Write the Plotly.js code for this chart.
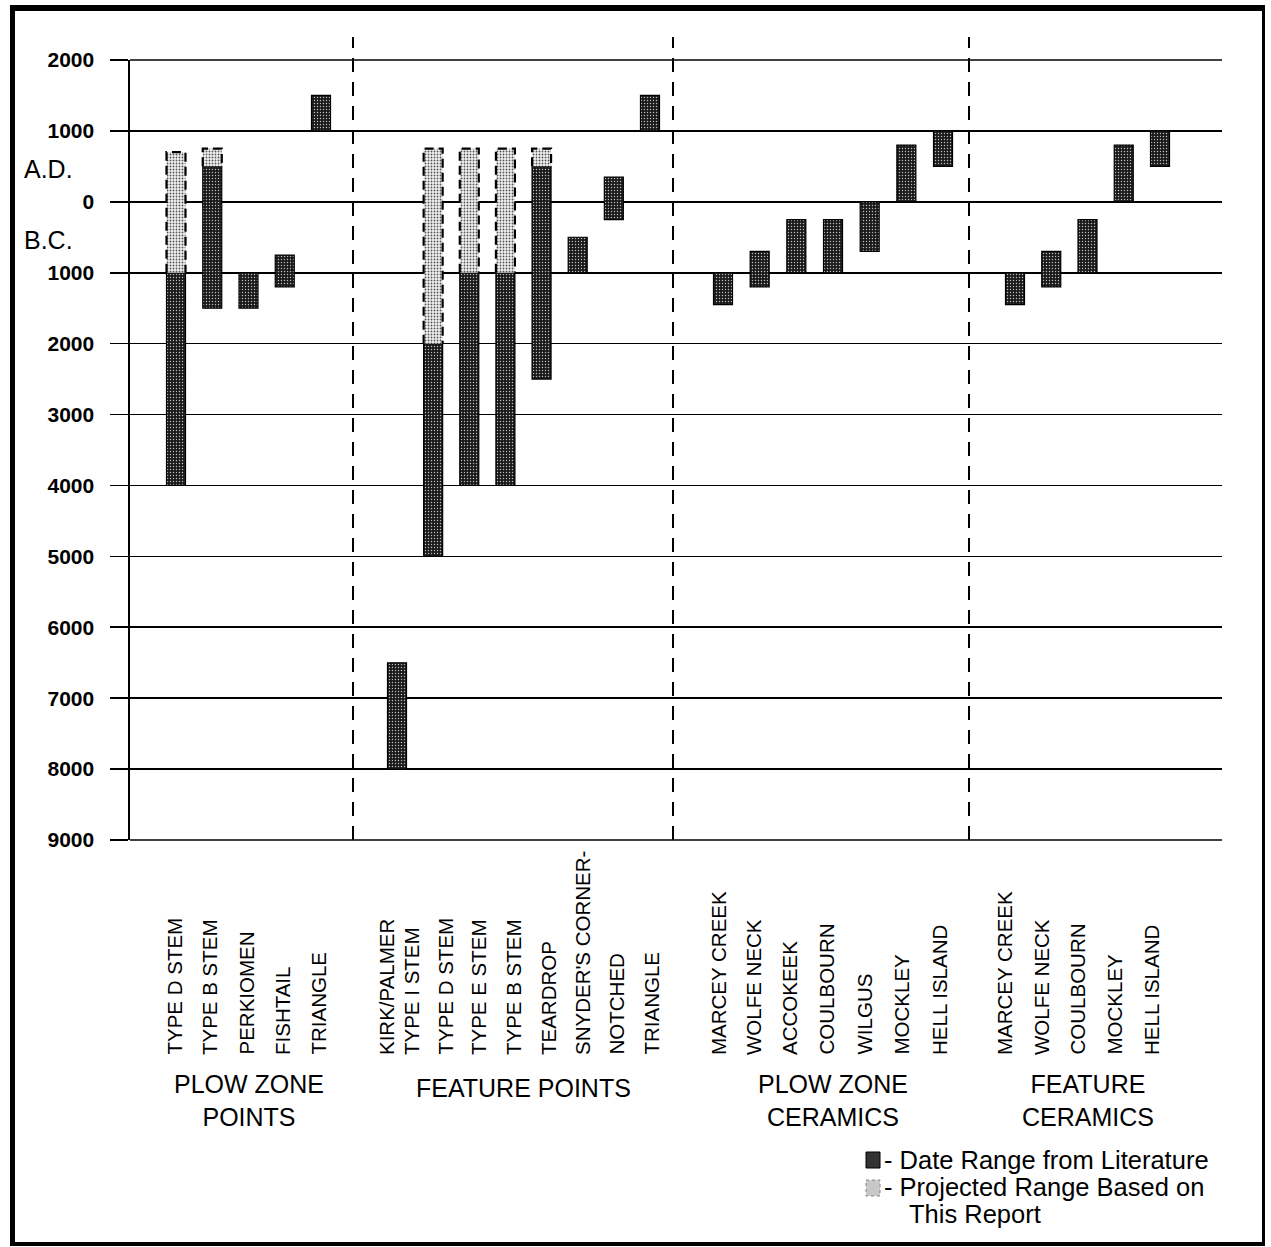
<!DOCTYPE html>
<html>
<head>
<meta charset="utf-8">
<script src="https://cdn.plot.ly/plotly-3.0.1.min.js"></script>
<style>
  html, body { margin: 0; padding: 0; background: #fff; }
  #wrap { position: relative; width: 1271px; height: 1247px; }
  #chart { position: absolute; left: 0; top: 0; width: 1271px; height: 1247px; }
  #frame { position: absolute; left: 10px; top: 5px; width: 1247px; height: 1231px;
           border-left: 5px solid #000; border-top: 6px solid #000;
           border-right: 3px solid #000; border-bottom: 4px solid #000; pointer-events: none; }
</style>
</head>
<body>
<div id="wrap"><div id="chart"></div><div id="frame"></div></div>
<script>
// ---------------- DATA (years: A.D. positive, B.C. negative) ----------------
const groups = ["PLOW ZONE<br>POINTS", "FEATURE POINTS", "PLOW ZONE<br>CERAMICS", "FEATURE<br>CERAMICS"];

const plowPointCats = ["TYPE D STEM", "TYPE B STEM", "PERKIOMEN", "FISHTAIL", "TRIANGLE"];
const plowPointLitStart = [-4000, -1500, -1500, -1200, 1000];
const plowPointLitEnd   = [-1000,   500, -1000,  -750, 1500];
const plowPointProjStart = [-1000,  500, null, null, null];
const plowPointProjEnd   = [  700,  750, null, null, null];

const featPointCats = ["KIRK/PALMER", "TYPE I STEM", "TYPE D STEM", "TYPE E STEM", "TYPE B STEM",
                       "TEARDROP", "SNYDER'S CORNER-<br>NOTCHED", "TRIANGLE"];
const featPointLitStart = [-8000, -5000, -4000, -4000, -2500, -1000, -250, 1000];
const featPointLitEnd   = [-6500, -2000, -1000, -1000,   500,  -500,  350, 1500];
const featPointProjStart = [null, -2000, -1000, -1000, 500, null, null, null];
const featPointProjEnd   = [null,   750,   750,   750, 750, null, null, null];

const plowCerCats = ["MARCEY CREEK", "WOLFE NECK", "ACCOKEEK", "COULBOURN", "WILGUS", "MOCKLEY", "HELL ISLAND"];
const plowCerLitStart = [-1450, -1200, -1000, -1000, -700,   0,  500];
const plowCerLitEnd   = [-1000,  -700,  -250,  -250,    0, 800, 1000];

const featCerCats = ["MARCEY CREEK", "WOLFE NECK", "COULBOURN", "MOCKLEY", "HELL ISLAND"];
const featCerLitStart = [-1450, -1200, -1000,   0,  500];
const featCerLitEnd   = [-1000,  -700,  -250, 800, 1000];

const yTickVals   = [2000, 1000, 0, -1000, -2000, -3000, -4000, -5000, -6000, -7000, -8000, -9000];
const yTickLabels = ["2000", "1000", "0", "1000", "2000", "3000", "4000", "5000", "6000", "7000", "8000", "9000"];

const legendLabels = ["- Date Range from Literature", "- Projected Range Based on", "This Report"];

// ---------------- LAYOUT HELPERS (x axis units = pixels from plot left) ----------------
const groupLayout = [
  {start: 46,  step: 36.25, labels: [44, 79, 116, 152, 188]},
  {start: 267, step: 36.14, labels: [256, 281, 315, 348, 383, 418, 452, 521]},
  {start: 593, step: 36.67, labels: [588, 623, 659, 696, 734, 771, 809]},
  {start: 885, step: 36.25, labels: [874, 911, 947, 984, 1021]}
];
const separatorsX = [223, 543, 839];
const barW = 19;
const FONT = "Liberation Sans, Arial, Helvetica, sans-serif";
const Y_MIN = yTickVals[yTickVals.length - 1], Y_MAX = yTickVals[0];

const allGroups = [
  {cats: plowPointCats, ls: plowPointLitStart, le: plowPointLitEnd, ps: plowPointProjStart, pe: plowPointProjEnd},
  {cats: featPointCats, ls: featPointLitStart, le: featPointLitEnd, ps: featPointProjStart, pe: featPointProjEnd},
  {cats: plowCerCats, ls: plowCerLitStart, le: plowCerLitEnd, ps: null, pe: null},
  {cats: featCerCats, ls: featCerLitStart, le: featCerLitEnd, ps: null, pe: null}
];

const litX = [], litBase = [], litLen = [], litText = [];
const projX = [], projBase = [], projLen = [], projText = [];
const outX = [], outY = [];
const annotations = [];
const shapes = [];

// y paper coordinate from pixel (plot area 60..840)
const PT = 60, PB = 840, PH = 780;
const py = p => (PB - p) / PH;

allGroups.forEach((g, gi) => {
  const L = groupLayout[gi];
  const xs = g.cats.map((c, i) => L.start + i * L.step);
  g.cats.forEach((c, i) => {
    const x = xs[i];
    litX.push(x); litBase.push(g.ls[i]); litLen.push(g.le[i] - g.ls[i]); litText.push(c.replace("<br>", ""));
    if (g.ps && g.ps[i] !== null) {
      projX.push(x); projBase.push(g.ps[i]); projLen.push(g.pe[i] - g.ps[i]); projText.push(c.replace("<br>", ""));
      const x0 = x - barW / 2, x1 = x + barW / 2;
      outX.push(x0, x0, x1, x1, null);
      outY.push(g.ps[i], g.pe[i], g.pe[i], g.ps[i], null);
    }
    // category label(s), rotated, bottom aligned
    const parts = c.split("<br>");
    parts.forEach((p, k) => {
      annotations.push({
        text: p, xref: "x", yref: "paper", x: L.labels[i] + k * 34, y: py(1057),
        xanchor: "center", yanchor: "bottom", textangle: -90, showarrow: false,
        font: {family: FONT, size: 20.5, color: "#000"}
      });
    });
  });
  // group label centred under bars
  const cx = (xs[0] + xs[xs.length - 1]) / 2;
  const nLines = groups[gi].split("<br>").length;
  annotations.push({
    text: groups[gi], xref: "x", yref: "paper", x: cx, y: py(nLines > 1 ? 1100 : 1088),
    xanchor: "center", yanchor: "middle", showarrow: false, align: "center",
    font: {family: FONT, size: 25, color: "#000"}
  });
});

separatorsX.forEach(sx => {
  shapes.push({type: "line", xref: "x", yref: "paper", x0: sx, x1: sx, y0: 0, y1: py(37),
               line: {color: "#000", width: 2, dash: "14px,10px"}});
});

// top and bottom grid lines (Plotly hides grid lines on the range edges)
[1, 0].forEach(v => {
  shapes.push({type: "line", xref: "paper", yref: "paper", x0: 0, x1: 1, y0: v, y1: v,
               line: {color: "#000", width: 1.6}, layer: "below"});
});

// A.D. / B.C.
annotations.push({text: "A.D.", xref: "paper", yref: "paper", x: (22 - 130) / 1092, y: py(169),
  xanchor: "left", yanchor: "middle", showarrow: false, font: {family: FONT, size: 25, color: "#000"}});
annotations.push({text: "B.C.", xref: "paper", yref: "paper", x: (22 - 130) / 1092, y: py(240),
  xanchor: "left", yanchor: "middle", showarrow: false, font: {family: FONT, size: 25, color: "#000"}});

// legend (swatches + text)
shapes.push({type: "rect", xref: "x", yref: "paper", x0: 736, x1: 750, y0: py(1152), y1: py(1168),
             fillcolor: "#333", line: {color: "#000", width: 1}});
shapes.push({type: "rect", xref: "x", yref: "paper", x0: 736, x1: 750, y0: py(1180), y1: py(1196),
             fillcolor: "#c8c8c8", line: {color: "#888", width: 1, dash: "dot"}});
annotations.push({text: legendLabels[0], xref: "x", yref: "paper", x: 752, y: py(1160),
  xanchor: "left", yanchor: "middle", showarrow: false, font: {family: FONT, size: 25.5, color: "#000"}});
annotations.push({text: legendLabels[1], xref: "x", yref: "paper", x: 752, y: py(1187),
  xanchor: "left", yanchor: "middle", showarrow: false, font: {family: FONT, size: 25.5, color: "#000"}});
annotations.push({text: legendLabels[2], xref: "x", yref: "paper", x: 777, y: py(1214),
  xanchor: "left", yanchor: "middle", showarrow: false, font: {family: FONT, size: 25.5, color: "#000"}});

const traces = [
  {
    type: "bar", name: "Date Range from Literature", x: litX, y: litLen, base: litBase, width: barW,
    text: litText, textposition: "none", hoverinfo: "text",
    marker: {color: "#1a1a1a", line: {color: "#000", width: 1.2},
             pattern: {shape: ".", fillmode: "replace", bgcolor: "#1a1a1a", fgcolor: "#bbb", size: 3, solidity: 0.18}},
    showlegend: false
  },
  {
    type: "bar", name: "Projected Range Based on This Report", x: projX, y: projLen, base: projBase, width: barW,
    text: projText, textposition: "none", hoverinfo: "text",
    marker: {color: "#fff", line: {width: 0},
             pattern: {shape: ".", fillmode: "replace", bgcolor: "#f2f2f2", fgcolor: "#555", size: 3, solidity: 0.3}},
    showlegend: false
  },
  {
    type: "scatter", mode: "lines", x: outX, y: outY, hoverinfo: "skip", showlegend: false,
    line: {color: "#000", width: 2.2, dash: "9px,5px"}
  }
];

const layout = {
  width: 1271, height: 1247,
  margin: {l: 130, r: 49, t: 60, b: 407},
  paper_bgcolor: "#fff", plot_bgcolor: "#fff",
  barmode: "overlay",
  showlegend: false,
  xaxis: {range: [0, 1092], showgrid: false, zeroline: false, showline: false,
          showticklabels: false, ticks: "", fixedrange: true},
  yaxis: {range: [Y_MIN, Y_MAX], tickvals: yTickVals, ticktext: yTickLabels,
          showgrid: true, gridcolor: "#000", gridwidth: 1.6,
          zeroline: true, zerolinecolor: "#000", zerolinewidth: 1.6,
          showline: true, linecolor: "#000", linewidth: 1.6,
          ticks: "outside", ticklen: 18, tickwidth: 1.6, tickcolor: "#000",
          ticklabelstandoff: 12,
          tickfont: {family: FONT, size: 21, color: "#000", weight: "bold"}, fixedrange: true},
  annotations: annotations,
  shapes: shapes,
  font: {family: FONT, color: "#000"}
};

Plotly.newPlot("chart", traces, layout, {displayModeBar: false, staticPlot: true});
</script>
</body>
</html>
